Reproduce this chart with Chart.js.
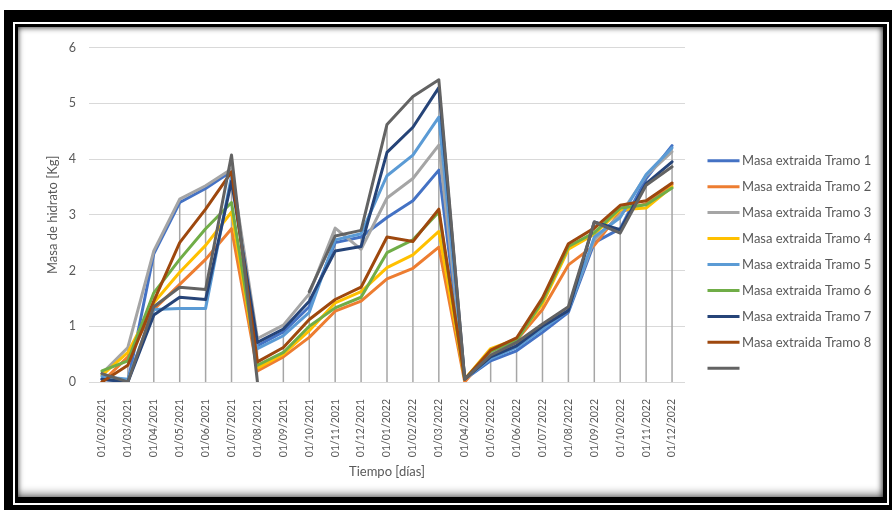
<!DOCTYPE html>
<html>
<head>
<meta charset="utf-8">
<script src="https://cdn.jsdelivr.net/npm/chart.js@4.4.1/dist/chart.umd.min.js"></script>
<style>
  html, body { margin: 0; padding: 0; width: 892px; height: 510px; overflow: hidden; background: #fff; }
  #marcoExterior { position: absolute; left: 4px; top: 10px; width: 888px; height: 500px; background: #000; }
  #separador { position: absolute; left: 13px; top: 22px; width: 876px; height: 483px; background: #fff; }
  #marcoInterior { position: absolute; left: 15px; top: 24px; width: 872px; height: 479px; background: #000; }
  #panel { position: absolute; left: 18px; top: 27px; width: 865px; height: 470px; background: #fff;
           box-shadow: inset 0 -5px 8px -2px rgba(0,0,0,0.5), inset 0 4px 5px -2px rgba(0,0,0,0.45),
                       inset -4px 0 5px -2px rgba(0,0,0,0.45), inset 3px 0 4px -2px rgba(0,0,0,0.35); }
  #grafico { position: absolute; left: 18px; top: 27px; }
</style>
</head>
<body>
<div id="marcoExterior"></div>
<div id="separador"></div>
<div id="marcoInterior"></div>
<div id="panel"></div>
<canvas id="grafico" width="865" height="470"></canvas>
<script>
// Fechas de medición (eje X)
const fechas = [
  '01/02/2021', '01/03/2021', '01/04/2021', '01/05/2021', '01/06/2021', '01/07/2021',
  '01/08/2021', '01/09/2021', '01/10/2021', '01/11/2021', '01/12/2021', '01/01/2022',
  '01/02/2022', '01/03/2022', '01/04/2022', '01/05/2022', '01/06/2022', '01/07/2022',
  '01/08/2022', '01/09/2022', '01/10/2022', '01/11/2022', '01/12/2022'
];

// Masa de hidrato extraída por tramo [Kg]
const tramo1 = [0.05, 0.00, 2.30, 3.22, 3.47, 3.78, 0.65, 0.90, 1.35, 2.50, 2.60, 2.95, 3.25, 3.80, 0.05, 0.38, 0.56, 0.89, 1.25, 2.50, 2.75, 3.65, 4.24];
const tramo2 = [0.00, 0.45, 1.30, 1.75, 2.20, 2.75, 0.20, 0.45, 0.80, 1.27, 1.45, 1.85, 2.04, 2.42, 0.00, 0.55, 0.75, 1.30, 2.10, 2.45, 3.05, 3.20, 3.54];
const tramo3 = [0.15, 0.62, 2.35, 3.28, 3.52, 3.82, 0.78, 1.02, 1.58, 2.76, 2.38, 3.30, 3.65, 4.25, 0.05, 0.50, 0.68, 1.00, 1.30, 2.55, 3.00, 3.70, 4.13];
const tramo4 = [0.12, 0.53, 1.42, 1.97, 2.45, 3.05, 0.25, 0.50, 0.92, 1.42, 1.62, 2.05, 2.28, 2.70, 0.05, 0.60, 0.77, 1.40, 2.38, 2.65, 3.09, 3.12, 3.50];
const tramo5 = [0.10, 0.05, 1.30, 1.32, 1.32, 3.70, 0.60, 0.83, 1.25, 2.55, 2.66, 3.70, 4.07, 4.75, 0.05, 0.42, 0.62, 0.95, 1.28, 2.60, 2.95, 3.72, 4.20];
const tramo6 = [0.20, 0.38, 1.60, 2.20, 2.75, 3.22, 0.30, 0.53, 1.00, 1.33, 1.52, 2.32, 2.55, 3.05, 0.05, 0.55, 0.74, 1.45, 2.43, 2.68, 3.12, 3.18, 3.48];
const tramo7 = [0.05, 0.00, 1.20, 1.52, 1.48, 3.60, 0.71, 0.95, 1.45, 2.35, 2.43, 4.12, 4.57, 5.28, 0.05, 0.45, 0.65, 1.00, 1.28, 2.87, 2.73, 3.56, 3.95];
const tramo8 = [0.00, 0.30, 1.45, 2.50, 3.10, 3.77, 0.36, 0.62, 1.12, 1.48, 1.70, 2.60, 2.52, 3.10, 0.05, 0.57, 0.79, 1.51, 2.48, 2.76, 3.17, 3.25, 3.57];
const serie9 = [0.15, 0.00, 1.35, 1.70, 1.66, 4.07, 0.00, null, 1.62, 2.62, 2.72, 4.62, 5.12, 5.42, 0.05, 0.48, 0.71, 1.04, 1.35, 2.87, 2.67, 3.53, 3.86];

const series = [tramo1, tramo2, tramo3, tramo4, tramo5, tramo6, tramo7, tramo8, serie9];
const nombres = [
  'Masa extraida Tramo 1', 'Masa extraida Tramo 2', 'Masa extraida Tramo 3',
  'Masa extraida Tramo 4', 'Masa extraida Tramo 5', 'Masa extraida Tramo 6',
  'Masa extraida Tramo 7', 'Masa extraida Tramo 8', ''
];
const colores = ['#4472C4', '#ED7D31', '#A5A5A5', '#FFC000', '#5B9BD5', '#70AD47', '#264478', '#9E480E', '#636363'];

// Marcas del eje Y
const marcasY = [0, 1, 2, 3, 4, 5, 6];

const fuente = 'Lato, "Open Sans", sans-serif';
const grisTexto = '#595959';

// Líneas de caída: de la serie más alta de cada fecha hasta el eje
const lineasCaida = {
  id: 'lineasCaida',
  beforeDatasetsDraw(chart) {
    const { ctx, scales: { x, y } } = chart;
    ctx.save();
    ctx.strokeStyle = '#A6A6A6';
    ctx.lineWidth = 1.5;
    chart.data.labels.forEach((_, i) => {
      let max = -Infinity;
      chart.data.datasets.forEach(ds => {
        const v = ds.data[i];
        if (v !== null && v > max) max = v;
      });
      if (max <= 0) return;
      const px = x.getPixelForValue(i);
      ctx.beginPath();
      ctx.moveTo(px, y.getPixelForValue(0));
      ctx.lineTo(px, y.getPixelForValue(max));
      ctx.stroke();
    });
    ctx.restore();
  }
};

// Leyenda a la derecha, con una línea de muestra por serie
const leyendaLateral = {
  id: 'leyendaLateral',
  afterDraw(chart, args, opts) {
    const { ctx } = chart;
    ctx.save();
    ctx.font = opts.size + 'px ' + fuente;
    ctx.textBaseline = 'middle';
    ctx.textAlign = 'left';
    chart.data.datasets.forEach((ds, i) => {
      const yy = opts.top + i * opts.step;
      ctx.strokeStyle = ds.borderColor;
      ctx.lineWidth = 3;
      ctx.beginPath();
      ctx.moveTo(opts.left, yy);
      ctx.lineTo(opts.left + opts.lineLen, yy);
      ctx.stroke();
      if (ds.label) {
        ctx.fillStyle = grisTexto;
        ctx.fillText(ds.label, opts.left + opts.lineLen + 2.5, yy);
      }
    });
    ctx.restore();
  }
};

new Chart(document.getElementById('grafico'), {
  type: 'line',
  data: {
    labels: fechas,
    datasets: series.map((d, i) => ({
      label: nombres[i],
      data: d,
      borderColor: colores[i],
      backgroundColor: colores[i],
      borderWidth: 3,
      pointRadius: 0,
      pointHoverRadius: 0,
      tension: 0,
      spanGaps: false,
      borderJoinStyle: 'round',
      borderCapStyle: 'round',
      order: series.length - 1 - i
    }))
  },
  options: {
    responsive: false,
    animation: false,
    events: [],
    layout: { padding: { left: 0, top: 18, right: 198, bottom: 15 } },
    plugins: {
      legend: { display: false },
      tooltip: { enabled: false },
      leyendaLateral: { left: 689.5, top: 133.7, step: 25.95, lineLen: 32, size: 13 }
    },
    scales: {
      x: {
        type: 'category',
        offset: true,
        grid: { display: false },
        border: { display: false },
        ticks: {
          autoSkip: false, minRotation: 90, maxRotation: 90, padding: 9,
          color: grisTexto, font: { family: fuente, size: 10.5 }
        },
        title: {
          display: true, text: 'Tiempo [días]', color: grisTexto,
          font: { family: fuente, size: 13 }, padding: { top: 0, bottom: 2 }
        },
        afterFit(s) { s.height = 100; }
      },
      y: {
        min: 0, max: 6,
        afterBuildTicks(s) { s.ticks = marcasY.map(v => ({ value: v })); },
        grid: { color: '#D9D9D9', lineWidth: 1, drawTicks: false },
        border: { display: false },
        ticks: { padding: 13, color: grisTexto, font: { family: fuente, size: 12.5 } },
        title: {
          display: true, text: 'Masa de hidrato [Kg]', color: grisTexto,
          font: { family: fuente, size: 13 }, padding: { top: 27, bottom: 0 }
        },
        afterFit(s) { s.width = 71; }
      }
    }
  },
  plugins: [lineasCaida, leyendaLateral]
});
</script>
</body>
</html>
